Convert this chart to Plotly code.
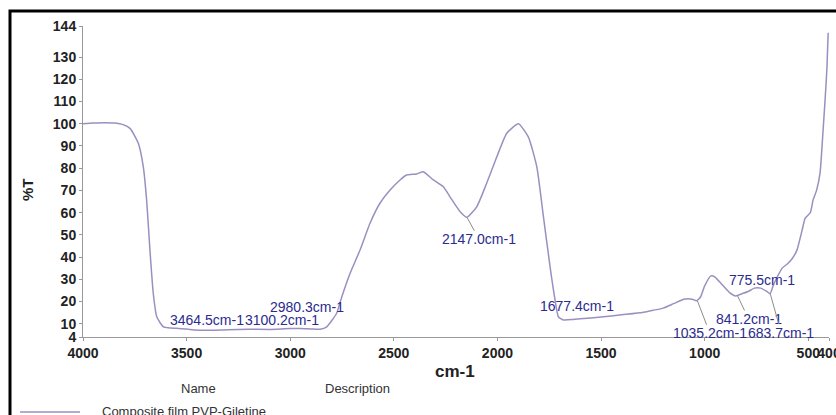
import plotly.graph_objects as go

# ---- data ----
wavenumber = [4000, 3950, 3900, 3850, 3807, 3773, 3733, 3709, 3693, 3677, 3661, 3644, 3612, 3548,
              3500, 3464, 3400, 3300, 3200, 3100, 3000, 2950, 2900, 2856, 2824, 2776, 2751, 2711,
              2663, 2615, 2567, 2518, 2470, 2438, 2390, 2358, 2309, 2261, 2229, 2180, 2147, 2100,
              2052, 2003, 1955, 1899, 1851, 1810, 1778, 1746, 1722, 1706, 1682, 1634, 1600, 1500,
              1400, 1300, 1250, 1200, 1150, 1100, 1060, 1040, 1020, 1000, 970, 950, 920, 880, 850,
              820, 790, 760, 730, 700, 684, 670, 650, 626, 600, 580, 555, 530, 515, 490, 477, 460,
              443, 430, 419, 410, 404]
transmittance = [100, 100.3, 100.5, 100.3, 99.6, 97.9, 91.2, 80.6, 65.7, 43.2, 23.7, 13.1, 8.6, 7.9,
                 7.6, 7.2, 7.0, 7.3, 7.5, 7.4, 7.8, 7.8, 7.6, 7.5, 8.6, 14.7, 22.1, 32.7,
                 43.2, 55.2, 64.2, 70.2, 74.7, 76.9, 77.4, 78.4, 74.7, 71.6, 67.1, 60.4, 57.9, 62.6,
                 73.2, 85.1, 95.7, 100, 94.1, 80.6, 58.1, 35.6, 20.7, 13.1, 11.7, 11.9, 12.2, 13,
                 14, 15, 16, 17, 19, 21, 21, 20.3, 22, 27, 31.5, 31, 28, 24, 22.5,
                 23.5, 24.5, 26, 26, 24.5, 23.5, 27, 31, 35, 37, 39, 43, 52, 57.5, 60, 65.6, 70,
                 78, 95, 110.6, 125, 141]

peak_labels = ["3464.5cm-1", "3100.2cm-1", "2980.3cm-1", "2147.0cm-1", "1677.4cm-1",
               "775.5cm-1", "841.2cm-1", "1035.2cm-1", "683.7cm-1"]
peak_x = [3464.5, 3100.2, 2980.3, 2147.0, 1677.4, 775.5, 841.2, 1035.2, 683.7]
peak_y = [7.2, 7.4, 7.8, 57.9, 11.7, 25.0, 22.5, 20.3, 23.5]

x_ticks = [4000, 3500, 3000, 2500, 2000, 1500, 1000, 500, 400]
y_ticks = [4, 10, 20, 30, 40, 50, 60, 70, 80, 90, 100, 110, 120, 130, 144]

series_name = "Composite film PVP-Giletine"

# ---- figure ----
W, H = 836, 415
L, R, T, B = 83, 7, 26, 78
pw, ph = W - L - R, H - T - B


def px(xp):
    return (xp - L) / pw


def py(yp):
    return (H - B - yp) / ph


line_color = "#9b8fc0"
label_color = "#2b2b8e"
FONT = "Liberation Sans, Arial"

fig = go.Figure()
fig.add_trace(go.Scatter(x=wavenumber, y=transmittance, mode="lines",
                         line=dict(color=line_color, width=1.5, shape="spline", smoothing=0.5),
                         name=series_name, showlegend=False, hoverinfo="skip"))

# label offsets in pixels: (dx right, dy down, arrow)
label_style = [(13.5, -10, False), (13, -9.5, False), (12.7, -22, False), (12, 22, True),
               (13, -14, False), (10.5, -10, False), (11, 23, True), (12.5, 32.5, True), (11, 39, True)]

annotations = []
for txt, xv, yv, (dx, dy, arr) in zip(peak_labels, peak_x, peak_y, label_style):
    f = dict(family=FONT, size=14, color=label_color)
    if arr:
        annotations.append(dict(x=xv, y=yv, xref="x", yref="y", text=txt, showarrow=True,
                                ax=dx, ay=dy, arrowhead=0, arrowwidth=1, arrowcolor="#8c8c8c",
                                borderpad=0, font=f))
    else:
        annotations.append(dict(x=xv, y=yv, xref="x", yref="y", text=txt, showarrow=False,
                                xshift=dx, yshift=-dy, xanchor="center", yanchor="middle", font=f))


def paper_text(x, y, text, size, color="#333", angle=0, xanchor="center"):
    return dict(x=px(x), y=py(y), xref="paper", yref="paper", text=text, textangle=angle,
                xanchor=xanchor, yanchor="middle", showarrow=False,
                font=dict(family=FONT, size=size, color=color))


annotations += [
    paper_text(27, 190, "<b>%T</b>", 15, "#222", angle=-90),
    paper_text(455, 371, "<b>cm-1</b>", 17, "#222"),
    paper_text(198, 388, "Name", 13),
    paper_text(357, 388, "Description", 13),
    paper_text(100, 411, series_name, 13, xanchor="left"),
]

shapes = [
    dict(type="rect", xref="paper", yref="paper", x0=px(10), x1=px(845), y0=py(440), y1=py(11),
         line=dict(color="black", width=3), layer="above"),
    dict(type="line", xref="paper", yref="paper", x0=px(20), x1=px(80), y0=py(412), y1=py(412),
         line=dict(color=line_color, width=1.5)),
]

fig.update_layout(
    width=W, height=H,
    margin=dict(l=L, r=R, t=T, b=B, autoexpand=False),
    paper_bgcolor="white", plot_bgcolor="white",
    showlegend=False,
    annotations=annotations,
    shapes=shapes,
    font=dict(family=FONT, color="#222"),
)
tickfont = dict(family=FONT, size=14, color="#222", weight="bold")
fig.update_xaxes(range=[4000, 400], tickvals=x_ticks, ticktext=[str(v) for v in x_ticks],
                 tickangle=0, automargin=False, ticklabeloverflow="allow",
                 showgrid=False, zeroline=False, showline=True, linecolor="#999",
                 linewidth=1, ticks="outside", ticklen=3, tickcolor="#999", tickfont=tickfont)
fig.update_yaxes(range=[4, 144], tickvals=y_ticks, automargin=False, showgrid=False,
                 zeroline=False, showline=True, linecolor="#999", linewidth=1,
                 ticks="outside", ticklen=3, tickcolor="#999", tickfont=tickfont)

fig.write_html("out.html", config={"displayModeBar": False},
               post_script="document.body.style.margin='0';document.body.style.overflow='hidden';")
